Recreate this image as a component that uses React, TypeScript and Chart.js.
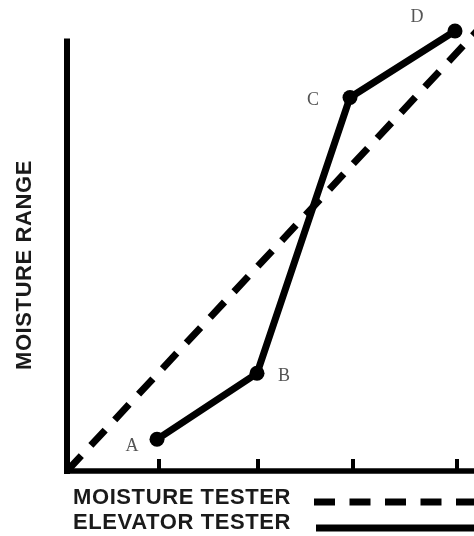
import React, { useEffect, useRef } from "react";
import { Chart, registerables } from "chart.js";

Chart.register(...registerables);

// ---- data ----
const pointLabels = ["A", "B", "C", "D"];
const elevatorX = [0.9, 1.9, 2.83, 3.88];
const elevatorY = [0.72, 2.22, 8.49, 10.0];
const moistureX = [0, 4.1];
const moistureY = [0, 10.0];
const xTicks = [0.92, 1.91, 2.86, 3.9];
const yAxisTop = 9.83;
const legendLabels = ["MOISTURE TESTER", "ELEVATOR TESTER"];
const yTitle = "MOISTURE RANGE";

// ---- styles ----
const labelOffsets = [
  [-25, 7],
  [27, 3],
  [-37, 3],
  [-38, -14],
];

const overlayPlugin = {
  id: "overlay",
  beforeDatasetsDraw(chart: any) {
    const ctx = chart.ctx;
    const xs = chart.scales.x;
    const ys = chart.scales.y;
    const x0 = xs.getPixelForValue(0);
    const y0 = ys.getPixelForValue(0);
    ctx.save();
    ctx.strokeStyle = "#000";
    ctx.lineCap = "butt";
    // y axis
    ctx.lineWidth = 6;
    ctx.beginPath();
    ctx.moveTo(x0, ys.getPixelForValue(yAxisTop));
    ctx.lineTo(x0, y0 + 3);
    ctx.stroke();
    // x axis
    ctx.lineWidth = 5.5;
    ctx.beginPath();
    ctx.moveTo(x0 - 3, y0);
    ctx.lineTo(chart.width, y0);
    ctx.stroke();
    // ticks
    ctx.lineWidth = 4;
    xTicks.forEach((t) => {
      const px = xs.getPixelForValue(t);
      ctx.beginPath();
      ctx.moveTo(px, y0 - 12);
      ctx.lineTo(px, y0);
      ctx.stroke();
    });
    ctx.restore();
  },
  afterDraw(chart: any) {
    const ctx = chart.ctx;
    ctx.save();
    // point labels
    const meta = chart.getDatasetMeta(1);
    ctx.fillStyle = "#555";
    ctx.font = '18px "Liberation Serif"';
    ctx.textAlign = "center";
    ctx.textBaseline = "middle";
    meta.data.forEach((el: any, i: number) => {
      const [dx, dy] = labelOffsets[i];
      ctx.fillText(pointLabels[i], el.x + dx, el.y + dy);
    });
    // y title
    ctx.fillStyle = "#1a1a1a";
    ctx.font = 'bold 22px "Liberation Sans"';
    (ctx as any).letterSpacing = "0.6px";
    ctx.translate(25, 265);
    ctx.rotate(-Math.PI / 2);
    ctx.textAlign = "center";
    ctx.textBaseline = "middle";
    ctx.fillText(yTitle, 0, 0);
    ctx.setTransform(1, 0, 0, 1, 0, 0);
    // legend
    ctx.textAlign = "left";
    ctx.textBaseline = "alphabetic";
    ctx.fillText(legendLabels[0], 73, 503.5);
    ctx.fillText(legendLabels[1], 73, 528.5);
    ctx.strokeStyle = "#000";
    ctx.lineWidth = 7;
    ctx.lineCap = "butt";
    ctx.setLineDash([21, 14.5]);
    ctx.beginPath();
    ctx.moveTo(314, 502);
    ctx.lineTo(chart.width, 502);
    ctx.stroke();
    ctx.setLineDash([]);
    ctx.beginPath();
    ctx.moveTo(316, 528);
    ctx.lineTo(chart.width, 528);
    ctx.stroke();
    ctx.restore();
  },
};

export default function App() {
  const ref = useRef<HTMLCanvasElement>(null);
  useEffect(() => {
    if (!ref.current) return;
    const chart = new Chart(ref.current, {
      type: "scatter",
      data: {
        datasets: [
          {
            label: legendLabels[0],
            data: moistureX.map((x, i) => ({ x, y: moistureY[i] })),
            showLine: true,
            borderColor: "#000",
            borderWidth: 7,
            borderDash: [21, 14],
            borderCapStyle: "butt",
            pointRadius: 0,
            clip: false,
          },
          {
            label: legendLabels[1],
            data: elevatorX.map((x, i) => ({ x, y: elevatorY[i] })),
            showLine: true,
            borderColor: "#000",
            borderWidth: 7,
            borderJoinStyle: "round",
            pointRadius: 7.5,
            pointBackgroundColor: "#000",
            pointBorderColor: "#000",
            pointBorderWidth: 0,
            clip: false,
          },
        ],
      },
      options: {
        animation: false,
        responsive: false,
        devicePixelRatio: 1,
        layout: {
          autoPadding: false,
          padding: { left: 67, right: 0, top: 31, bottom: 65 },
        },
        scales: {
          x: { type: "linear", display: false, min: 0, max: 4.07 },
          y: { type: "linear", display: false, min: 0, max: 10 },
        },
        plugins: {
          legend: { display: false },
          tooltip: { enabled: false },
        },
      } as any,
      plugins: [overlayPlugin],
    });
    return () => chart.destroy();
  }, []);
  return (
    <div
      style={{
        position: "fixed",
        left: 0,
        top: 0,
        width: 474,
        height: 536,
        background: "#fff",
        overflow: "hidden",
      }}
    >
      <canvas ref={ref} width={474} height={536} />
    </div>
  );
}
